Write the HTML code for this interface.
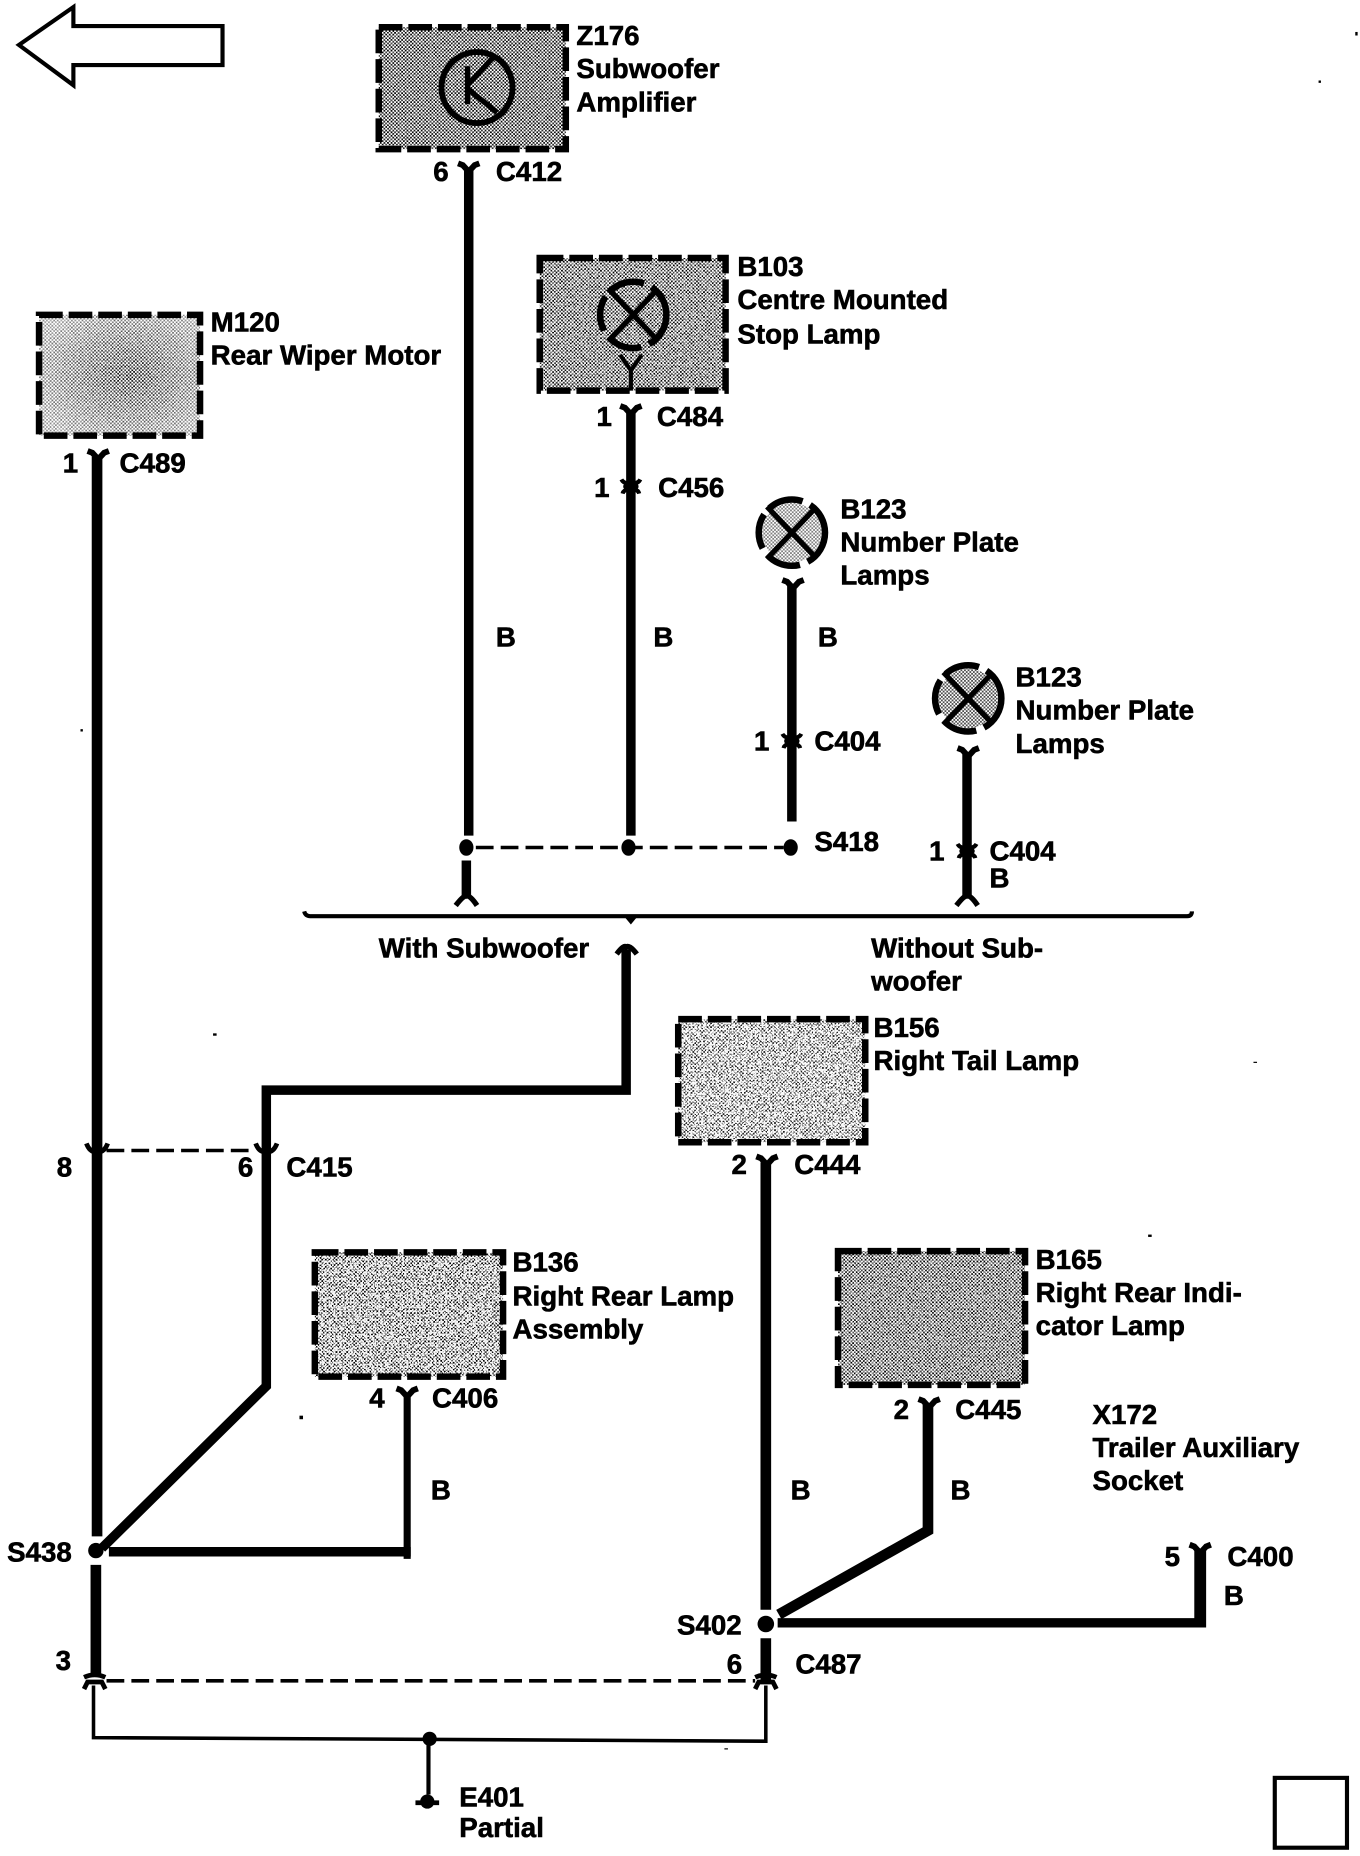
<!DOCTYPE html>
<html>
<head>
<meta charset="utf-8">
<title>Wiring diagram</title>
<style>
html,body{margin:0;padding:0;background:#fff}
svg{display:block}
text{font-family:"Liberation Sans",sans-serif;font-weight:bold;font-size:23.4px;fill:#000;stroke:#000;stroke-width:.5px}
.w{fill:none;stroke:#000;stroke-linejoin:miter}
.box{stroke:#000;stroke-width:5.5;stroke-dasharray:20 5}
.d{fill:none;stroke:#000;stroke-width:3;stroke-dasharray:15 6}
.y{fill:none;stroke:#000;stroke-width:4.5}
</style>
</head>
<body>
<svg xmlns="http://www.w3.org/2000/svg" width="1360" height="1856" viewBox="0 0 1149 1568" preserveAspectRatio="none">
<defs>
<pattern id="st" width="3" height="3" patternUnits="userSpaceOnUse">
<rect width="3" height="3" fill="#fff"/>
<rect width="1.5" height="1.5" fill="#000"/>
<rect x="1.5" y="1.5" width="1.5" height="1.5" fill="#000"/>
</pattern>
<filter id="n" x="0" y="0" width="1" height="1">
<feTurbulence type="fractalNoise" baseFrequency="0.55" numOctaves="2" seed="4"/>
<feColorMatrix type="matrix" values="0 0 0 0 1  0 0 0 0 1  0 0 0 0 1  14 0 0 0 -6.6"/>
</filter>
<radialGradient id="m120" cx=".55" cy=".5" r=".62">
<stop offset="0" stop-color="#fff" stop-opacity="0"/>
<stop offset="1" stop-color="#fff" stop-opacity=".55"/>
</radialGradient>
<g id="lamp">
<circle r="28" fill="none" stroke="#000" stroke-width="5.5" stroke-dasharray="30 7"/>
<path d="M-21,-22L21,22M21,-22L-21,22" stroke="#000" stroke-width="4.5"/>
</g>
<path id="yc" d="M-9,0L-5,1.5L0,7L5,1.5L9,0" fill="none" stroke="#000" stroke-width="5"/>
<g id="mk">
<path d="M-8,-6Q-6,-2 0,-3Q6,-2 8,-6M-7,6Q-6,2 0,3Q6,2 7,6" fill="none" stroke="#000" stroke-width="3.5"/>
<ellipse rx="6.5" ry="4"/>
</g>
</defs>

<rect width="1149" height="1568" fill="#fff"/>

<!-- back arrow -->
<path d="M16,38L62,6V22H188V55H62V72Z" fill="#fff" stroke="#000" stroke-width="3.5"/>

<!-- Z176 -->
<rect x="320" y="23" width="158" height="103" fill="url(#st)"/>
<rect x="320" y="23" width="158" height="103" filter="url(#n)" opacity=".3"/>
<rect x="320" y="23" width="158" height="103" fill="none" class="box"/>
<circle cx="403" cy="74" r="30" fill="none" stroke="#000" stroke-width="5"/>
<path d="M395,56V88M395,72L418,47M395,75L420,95" fill="none" stroke="#000" stroke-width="4.5"/>
<text x="487" y="38">Z176</text>
<text x="487" y="66">Subwoofer</text>
<text x="487" y="94">Amplifier</text>
<use href="#yc" x="396" y="138"/>
<text x="366" y="153">6</text>
<text x="419" y="153">C412</text>
<path class="w" stroke-width="8" d="M396,143V706M394,727V758"/>
<path d="M385,765Q392,756 394,757Q397,756 403,765" class="y"/>

<!-- M120 -->
<rect x="33" y="266" width="136" height="102" fill="url(#st)"/>
<rect x="33" y="266" width="136" height="102" filter="url(#n)" opacity=".35"/>
<rect x="33" y="266" width="136" height="102" fill="url(#m120)"/>
<rect x="33" y="266" width="136" height="102" fill="none" class="box"/>
<text x="178" y="280">M120</text>
<text x="178" y="308">Rear Wiper Motor</text>
<use href="#yc" x="83" y="381"/>
<text x="53" y="399">1</text>
<text x="101" y="399">C489</text>
<path class="w" stroke-width="9" d="M82,386V1298M81,1322V1416"/>

<!-- B103 -->
<rect x="456" y="218" width="157" height="112" fill="url(#st)"/>
<rect x="456" y="218" width="157" height="112" filter="url(#n)" opacity=".5"/>
<rect x="456" y="218" width="157" height="112" fill="none" class="box"/>
<use href="#lamp" x="535" y="266"/>
<path d="M524,300L533,313L542,300M533,313V330" fill="none" stroke="#000" stroke-width="3.5"/>
<text x="623" y="233">B103</text>
<text x="623" y="261">Centre Mounted</text>
<text x="623" y="290">Stop Lamp</text>
<use href="#yc" x="533" y="343"/>
<text x="504" y="360">1</text>
<text x="555" y="360">C484</text>
<path class="w" stroke-width="8" d="M533,348V706"/>
<use href="#mk" x="533" y="411"/>
<text x="502" y="420">1</text>
<text x="556" y="420">C456</text>

<!-- B123 first -->
<circle cx="669" cy="450" r="25" fill="url(#st)"/>
<circle cx="669" cy="450" r="25" fill="#fff" opacity=".5"/>
<use href="#lamp" x="669" y="450"/>
<text x="710" y="438">B123</text>
<text x="710" y="466">Number Plate</text>
<text x="710" y="494">Lamps</text>
<use href="#yc" x="670" y="490"/>
<path class="w" stroke-width="8" d="M669,495V694"/>
<use href="#mk" x="669" y="626"/>
<text x="637" y="634">1</text>
<text x="688" y="634">C404</text>

<!-- B labels upper -->
<text x="419" y="546">B</text>
<text x="552" y="546">B</text>
<text x="691" y="546">B</text>

<!-- S418 bus -->
<path class="d" d="M402,716H662"/>
<ellipse cx="394" cy="716" rx="6" ry="7"/>
<ellipse cx="531" cy="716" rx="6" ry="7"/>
<ellipse cx="668" cy="716" rx="6" ry="7"/>
<text x="688" y="719">S418</text>

<!-- B123 second -->
<circle cx="818" cy="590" r="25" fill="url(#st)"/>
<circle cx="818" cy="590" r="25" fill="#fff" opacity=".3"/>
<use href="#lamp" x="818" y="590"/>
<text x="858" y="580">B123</text>
<text x="858" y="608">Number Plate</text>
<text x="858" y="636">Lamps</text>
<use href="#yc" x="818" y="632"/>
<path class="w" stroke-width="8" d="M817,637V758"/>
<use href="#mk" x="817" y="719"/>
<path d="M808,765Q815,756 817,757Q820,756 826,765" class="y"/>
<text x="785" y="727">1</text>
<text x="836" y="727">C404</text>
<text x="836" y="750">B</text>

<!-- divider -->
<path d="M257,770Q258,774 262,774H1003Q1007,774 1007,770" fill="none" stroke="#000" stroke-width="3.5"/>
<path d="M528,775L533,781L538,775Z"/>
<text x="320" y="809">With Subwoofer</text>
<text x="736" y="809">Without Sub-</text>
<text x="736" y="837">woofer</text>

<!-- subwoofer branch -->
<path d="M521,806Q527,798 529,800Q532,798 538,806" class="y"/>
<path class="w" stroke-width="8" d="M529,802V921H225V1171L86,1308"/>

<!-- C415 -->
<path class="d" d="M90,972H216"/>
<path d="M73,966Q76,974 82,973Q88,974 91,966M216,966Q219,974 225,973Q231,974 234,966" fill="none" stroke="#000" stroke-width="4"/>
<text x="48" y="994">8</text>
<text x="201" y="994">6</text>
<text x="242" y="994">C415</text>

<!-- B156 -->
<rect x="573" y="861" width="158" height="104" fill="url(#st)"/>
<rect x="573" y="861" width="158" height="104" filter="url(#n)" opacity=".95"/>
<rect x="573" y="861" width="158" height="104" fill="#fff" opacity=".12"/>
<rect x="573" y="861" width="158" height="104" fill="none" class="box"/>
<text x="738" y="876">B156</text>
<text x="738" y="904">Right Tail Lamp</text>
<use href="#yc" x="648" y="977"/>
<text x="618" y="992">2</text>
<text x="671" y="992">C444</text>
<path class="w" stroke-width="9" d="M647,982V1360M647,1384V1420"/>

<!-- B136 -->
<rect x="266" y="1058" width="159" height="105" fill="url(#st)"/>
<rect x="266" y="1058" width="159" height="105" filter="url(#n)" opacity=".9"/>
<rect x="266" y="1058" width="159" height="105" fill="none" class="box"/>
<text x="433" y="1074">B136</text>
<text x="433" y="1103">Right Rear Lamp</text>
<text x="433" y="1131">Assembly</text>
<use href="#yc" x="344" y="1173"/>
<text x="312" y="1189">4</text>
<text x="365" y="1189">C406</text>
<text x="364" y="1267">B</text>
<path class="w" stroke-width="6" d="M344,1178V1317"/>
<path class="w" stroke-width="8" d="M92,1311H347"/>
<circle cx="81" cy="1310" r="6.5"/>
<text x="6" y="1319">S438</text>

<!-- S402 -->
<circle cx="647" cy="1372" r="7"/>
<text x="572" y="1381">S402</text>
<text x="668" y="1267">B</text>
<path class="w" stroke-width="8" d="M657,1371H1018"/>
<path class="w" stroke-width="9" d="M784,1186V1293L658,1364"/>

<!-- B165 -->
<rect x="708" y="1057" width="158" height="113" fill="url(#st)"/>
<rect x="708" y="1057" width="158" height="113" filter="url(#n)" opacity=".5"/>
<rect x="708" y="1057" width="158" height="113" fill="none" class="box"/>
<text x="875" y="1072">B165</text>
<text x="875" y="1100">Right Rear Indi-</text>
<text x="875" y="1128">cator Lamp</text>
<use href="#yc" x="785" y="1182"/>
<text x="755" y="1199">2</text>
<text x="807" y="1199">C445</text>
<text x="803" y="1267">B</text>

<!-- X172 -->
<text x="923" y="1203">X172</text>
<text x="923" y="1231">Trailer Auxiliary</text>
<text x="923" y="1259">Socket</text>
<use href="#yc" x="1014" y="1305"/>
<path class="w" stroke-width="10" d="M1014,1310V1375"/>
<text x="984" y="1323">5</text>
<text x="1037" y="1323">C400</text>
<text x="1034" y="1356">B</text>

<!-- bottom -->
<text x="47" y="1411">3</text>
<text x="614" y="1414">6</text>
<text x="672" y="1414">C487</text>
<path class="d" d="M90,1420H638"/>
<path d="M71,1427L74,1421H86L89,1427M71,1417Q80,1413 89,1417" fill="none" stroke="#000" stroke-width="4"/>
<path d="M638,1427L641,1421H653L656,1427M638,1417Q647,1413 656,1417" fill="none" stroke="#000" stroke-width="4"/>
<path d="M79,1424V1468L647,1471V1424" fill="none" stroke="#000" stroke-width="3"/>
<circle cx="363" cy="1469" r="6"/>
<path d="M362,1470V1516" stroke="#000" stroke-width="3.5"/>
<circle cx="361" cy="1522" r="6"/>
<path d="M351,1523H371" stroke="#000" stroke-width="4"/>
<text x="388" y="1526">E401</text>
<text x="388" y="1552">Partial</text>

<!-- empty square -->
<rect x="1077" y="1502" width="61" height="59" fill="none" stroke="#000" stroke-width="3.5"/>

<!-- specks -->
<g>
<rect x="1145" y="27" width="2" height="3"/>
<rect x="1114" y="68" width="2" height="2"/>
<rect x="180" y="873" width="3" height="2"/>
<rect x="253" y="1196" width="3" height="3"/>
<rect x="970" y="1043" width="3" height="2"/>
<rect x="68" y="616" width="2" height="2"/>
<rect x="612" y="1477" width="3" height="1"/>
<rect x="1059" y="897" width="3" height="1"/>
</g>
</svg>
</body>
</html>
